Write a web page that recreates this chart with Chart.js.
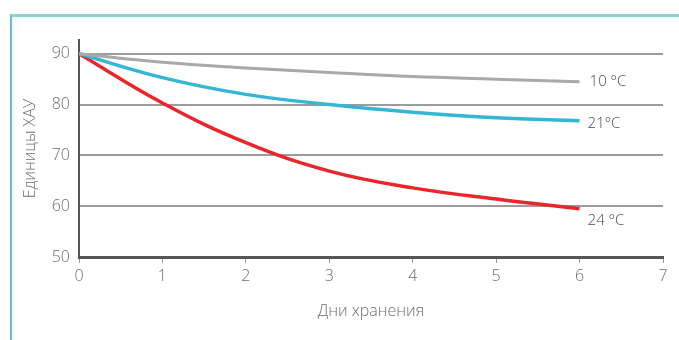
<!DOCTYPE html>
<html lang="ru">
<head>
    <meta charset="UTF-8">
    <title>Единицы ХАУ — дни хранения</title>
    <script src="https://cdnjs.cloudflare.com/ajax/libs/Chart.js/4.4.1/chart.umd.min.js"></script>
    <style>
        html, body { margin: 0; padding: 0; background: #fff; overflow: hidden; }
        .frame {
            position: absolute;
            left: 10px; top: 14px;
            width: 720px; height: 340px;
            border-top: 3px solid #88d4cf;
            border-left: 2px solid #78b6c7;
            box-shadow: inset 6px 4px 8px -4px #e4f8fb;
        }
        #chart { position: absolute; left: 0; top: 0; }
    </style>
</head>
<body>
    <div class="frame"></div>
    <canvas id="chart" width="679" height="340"></canvas>

    <script>
        // storage days
        const days = [0, 1, 2, 3, 4, 5, 6];
        const seriesNames = ['10 °C', '21°C', '24 °C'];
        const temp10 = [90, 88.3, 87.2, 86.3, 85.5, 85.0, 84.5];
        const temp21 = [90, 85.3, 82.0, 80.0, 78.5, 77.4, 76.8];
        const temp24 = [90, 80.3, 72.5, 66.9, 63.6, 61.4, 59.5];
        const yTicks = [50, 60, 70, 80, 90];
        const xTicks = [0, 1, 2, 3, 4, 5, 6, 7];

        const fontFamily = "'Open Sans', 'Noto Sans', sans-serif";
        const textColor = '#6e6e6e';
        const axisFont = { family: fontFamily, size: 16, weight: 300 };

        function toPoints(values) {
            return days.map((d, i) => ({ x: d, y: values[i] }));
        }

        // series name next to the last point of each line
        const endLabels = {
            id: 'endLabels',
            afterDatasetsDraw(chart) {
                const ctx = chart.ctx;
                const offsets = [[10, 0], [8, 3], [8, 12]];
                ctx.save();
                ctx.font = '300 15px ' + fontFamily;
                ctx.fillStyle = '#4a4a4a';
                ctx.textBaseline = 'middle';
                ctx.textAlign = 'left';
                chart.data.datasets.forEach((ds, i) => {
                    const meta = chart.getDatasetMeta(i);
                    const last = meta.data[meta.data.length - 1];
                    ctx.fillText(ds.label, last.x + offsets[i][0], last.y + offsets[i][1]);
                });
                ctx.restore();
            }
        };

        new Chart(document.getElementById('chart'), {
            type: 'line',
            data: {
                datasets: [
                    { label: seriesNames[0], data: toPoints(temp10), borderColor: '#a9a9a9', borderWidth: 3 },
                    { label: seriesNames[1], data: toPoints(temp21), borderColor: '#35b6d4', borderWidth: 3.5 },
                    { label: seriesNames[2], data: toPoints(temp24), borderColor: '#e8262b', borderWidth: 3.5 }
                ]
            },
            options: {
                responsive: false,
                animation: false,
                layout: { padding: { left: 0, top: 40, right: 16, bottom: 0 } },
                elements: {
                    point: { radius: 0 },
                    line: { tension: 0.4, borderCapStyle: 'butt' }
                },
                plugins: {
                    legend: { display: false },
                    tooltip: { enabled: false }
                },
                scales: {
                    x: {
                        type: 'linear',
                        min: 0,
                        max: 7,
                        afterBuildTicks: s => { s.ticks = xTicks.map(v => ({ value: v })); },
                        afterFit: s => { s.height = 83; },
                        grid: { drawOnChartArea: false, drawTicks: true, tickLength: 6, tickColor: '#999', lineWidth: 1 },
                        border: { color: '#555', width: 3 },
                        ticks: { color: textColor, padding: 4, font: axisFont },
                        title: {
                            display: true,
                            text: 'Дни хранения',
                            color: textColor,
                            padding: { top: 0, bottom: 19 },
                            font: axisFont
                        }
                    },
                    y: {
                        min: 50,
                        max: 92.7,
                        afterBuildTicks: s => { s.ticks = yTicks.map(v => ({ value: v })); },
                        afterFit: s => { s.width = 79; },
                        grid: { color: '#9c9c9c', lineWidth: 2, drawTicks: false },
                        border: { color: '#555', width: 2 },
                        ticks: { color: textColor, padding: 9, font: axisFont },
                        title: {
                            display: true,
                            text: 'Единицы ХАУ',
                            color: textColor,
                            padding: { top: 21, bottom: 0 },
                            font: axisFont
                        }
                    }
                }
            },
            plugins: [endLabels]
        });
    </script>
</body>
</html>
